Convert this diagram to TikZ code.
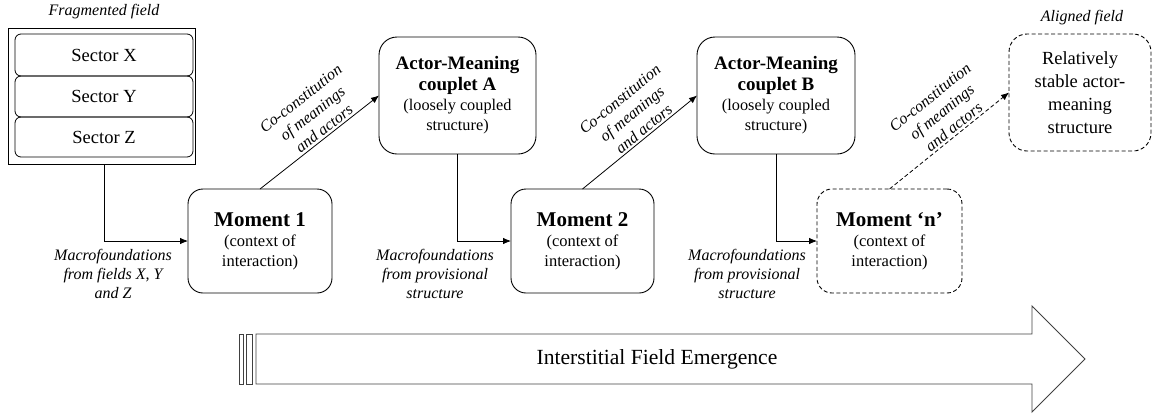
\documentclass[tikz,border=0pt]{standalone}
\usepackage{fontspec}
\setmainfont{Liberation Serif}
\usetikzlibrary{arrows.meta}
\tikzset{
  every node/.style={inner sep=0pt, outer sep=0pt},
  momentbox/.style={draw, line width=0.9pt, rounded corners=15pt, align=center,
     minimum width=144pt, minimum height=104pt, font=\fontsize{16.5}{20}\selectfont},
  couplebox/.style={draw, line width=0.9pt, rounded corners=18pt, align=center,
     minimum width=157pt, minimum height=117pt, font=\fontsize{16.3}{20.3}\selectfont},
  sectorbox/.style={draw, line width=0.8pt, rounded corners=6pt, minimum width=178pt,
     font=\fontsize{18.5}{20}\selectfont},
  dashedline/.style={dash pattern=on 4pt off 2.5pt},
  conn/.style={line width=0.8pt, -{Latex[length=8pt,width=6.5pt]}},
  lab/.style={align=center, font=\fontsize{16}{19}\selectfont\itshape}
}
\begin{document}
\begin{tikzpicture}[x=1pt,y=-1pt]
\useasboundingbox (0,0) rectangle (1153,413);
% fragmented field
\node[lab, anchor=base] (fragt) at (104,15) {Fragmented field};
\node[draw, line width=0.9pt, minimum width=187pt, minimum height=136pt] (frag) at (101.5,96) {};
\node[sectorbox, minimum height=42pt] (sx) at (104,55) {Sector X};
\node[sectorbox, minimum height=41pt] (sy) at (104,96.5) {Sector Y};
\node[sectorbox, minimum height=40pt] (sz) at (104,137) {Sector Z};
% moments
\node[momentbox] (m1) at (260,241) {{\fontsize{21}{20}\selectfont\bfseries Moment 1}\\(context of\\interaction)};
\node[momentbox, minimum width=143pt] (m2) at (582.5,241) {{\fontsize{21}{20}\selectfont\bfseries Moment 2}\\(context of\\interaction)};
\node[momentbox, dashedline, minimum width=145pt] (mn) at (889.5,241) {{\fontsize{21}{20}\selectfont\bfseries Moment ‘n’}\\(context of\\interaction)};
% couplets
\node[couplebox] (ca) at (457.5,95.5) {{\fontsize{19}{20}\selectfont\bfseries Actor-Meaning}\\{\fontsize{19}{20}\selectfont\bfseries couplet A}\\(loosely coupled\\structure)};
\node[couplebox, minimum width=158pt] (cb) at (776,95.5) {{\fontsize{19}{20}\selectfont\bfseries Actor-Meaning}\\{\fontsize{19}{20}\selectfont\bfseries couplet B}\\(loosely coupled\\structure)};
\node[draw, dashedline, line width=0.9pt, rounded corners=18pt, align=center,
      minimum width=142pt, minimum height=117pt, font=\fontsize{18.5}{23}\selectfont]
      (rs) at (1080,92.5) {Relatively\\stable actor-\\meaning\\structure};
\node[lab, anchor=base] (alt) at (1082,21) {Aligned field};
% connectors
\draw[conn] ([xshift=2.5pt]frag.south) |- (m1.west);
\draw[conn] (ca.south) |- (m2.west);
\draw[conn] (cb.south) |- (mn.west);
\draw[conn] (m1.north) -- node[lab, sloped, above=2.5pt, pos=0.58] (l1) {Co-constitution\\of meanings\\and actors} (ca.west);
\draw[conn] (m2.north) -- node[lab, sloped, above=2.5pt, pos=0.58] (l2) {Co-constitution\\of meanings\\and actors} (cb.west);
\draw[conn, dashedline] (mn.north) -- node[lab, sloped, above=2.5pt, pos=0.58] (l3) {Co-constitution\\of meanings\\and actors} (rs.west);
% macrofoundation labels
\node[lab, anchor=north] (mf1) at (113,249) {Macrofoundations\\from fields X, Y\\and Z};
\node[lab, anchor=north] (mf2) at (435,249) {Macrofoundations\\from provisional\\structure};
\node[lab, anchor=north] (mf3) at (747,249) {Macrofoundations\\from provisional\\structure};
% big arrow
\draw[line width=0.9pt, draw=black!75] (256,334) -- (1032,334) -- (1032,306) -- (1085,359) -- (1032,412) -- (1032,384) -- (256,384) -- cycle;
\draw[line width=0.8pt, draw=black!75] (239.5,334) rectangle (243.3,384);
\draw[line width=0.8pt, draw=black!75] (246,334) rectangle (252.7,384);
\node[font=\fontsize{21.6}{24}\selectfont] (ife) at (657,359) {Interstitial Field Emergence};
\end{tikzpicture}
\end{document}
